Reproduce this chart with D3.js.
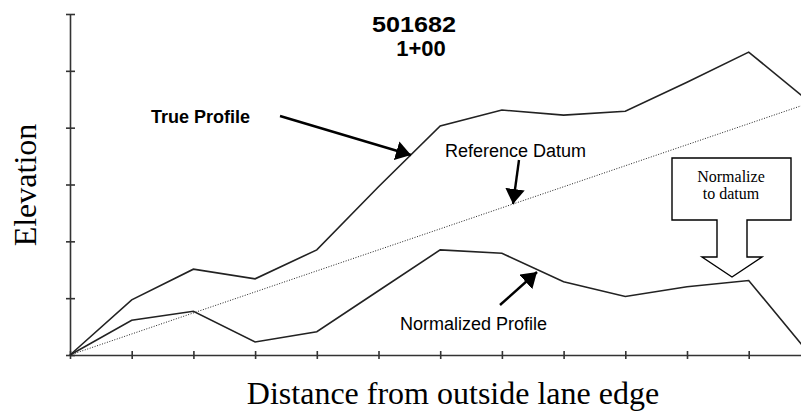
<!DOCTYPE html>
<html>
<head>
<meta charset="utf-8">
<script src="https://cdn.jsdelivr.net/npm/d3@7"></script>
<style>
  body { margin: 0; background: #fff; }
  svg { display: block; }
  .sans { font-family: "Liberation Sans", Arial, sans-serif; }
  .serif { font-family: "Liberation Serif", "Times New Roman", serif; }
</style>
</head>
<body>
<svg width="801" height="411"></svg>
<script>
"use strict";

// station index along the cross section (0 = outside lane edge)
const stations = [0, 1, 2, 3, 4, 5, 6, 7, 8, 9, 10, 11, 12];
const trueProfile = [0, 0.97, 1.51, 1.34, 1.85, 2.96, 4.03, 4.31, 4.22, 4.29, 4.80, 5.33, 4.44];
const normalizedProfile = [0, 0.61, 0.77, 0.23, 0.41, 1.13, 1.85, 1.79, 1.29, 1.03, 1.20, 1.31, 0];
const datumStations = [0, 12];
const datumValues = [0, 4.44];
const yTicks = [0, 1, 2, 3, 4, 5, 6];
const xTicks = [0, 1, 2, 3, 4, 5, 6, 7, 8, 9, 10, 11, 12];

const Padding = {LEFT: 70, TOP: 14, BOTTOM: 355};

const svg = d3.select("svg");

const x = d3.scaleLinear()
    .domain([0, 12])
    .range([Padding.LEFT, 810.4]);

const y = d3.scaleLinear()
    .domain([0, 6])
    .range([Padding.BOTTOM, Padding.TOP]);

// axes, ticks cross the axis line
const xAxis = svg.append("g")
    .attr("transform", `translate(0, ${Padding.BOTTOM})`)
    .call(d3.axisBottom(x).tickValues(xTicks).tickFormat("").tickSizeOuter(0));
xAxis.selectAll(".tick line").attr("y1", -4).attr("y2", 4);

const yAxis = svg.append("g")
    .attr("transform", `translate(${Padding.LEFT}, 0)`)
    .call(d3.axisLeft(y).tickValues(yTicks).tickFormat("").tickSizeOuter(0));
yAxis.selectAll(".tick line").attr("x1", -4).attr("x2", 5);

svg.selectAll(".domain, .tick line")
    .attr("stroke", "#333")
    .attr("stroke-width", 1.6);

// lines
const line = d3.line()
    .x(d => x(d[0]))
    .y(d => y(d[1]));

svg.append("path")
    .datum(d3.zip(datumStations, datumValues))
    .attr("fill", "none")
    .attr("stroke", "#222")
    .attr("stroke-width", 1)
    .attr("stroke-dasharray", "1,1.6")
    .attr("d", line);

svg.append("path")
    .datum(d3.zip(stations, trueProfile))
    .attr("fill", "none")
    .attr("stroke", "#222")
    .attr("stroke-width", 1.6)
    .attr("d", line);

svg.append("path")
    .datum(d3.zip(stations, normalizedProfile))
    .attr("fill", "none")
    .attr("stroke", "#222")
    .attr("stroke-width", 1.6)
    .attr("d", line);

// title
svg.append("text").attr("class", "sans")
    .attr("x", 414).attr("y", 32)
    .attr("text-anchor", "middle")
    .attr("font-size", 22).attr("font-weight", "bold")
    .attr("textLength", 84).attr("lengthAdjust", "spacingAndGlyphs")
    .text("501682");
svg.append("text").attr("class", "sans")
    .attr("x", 421).attr("y", 56)
    .attr("text-anchor", "middle")
    .attr("font-size", 22).attr("font-weight", "bold")
    .text("1+00");

// axis titles
svg.append("text").attr("class", "serif")
    .attr("x", 453).attr("y", 404)
    .attr("text-anchor", "middle")
    .attr("font-size", 32)
    .text("Distance from outside lane edge");

svg.append("text").attr("class", "serif")
    .attr("transform", "translate(36, 185) rotate(-90)")
    .attr("text-anchor", "middle")
    .attr("font-size", 32)
    .text("Elevation");

// arrows with filled heads
svg.append("defs").append("marker")
    .attr("id", "head")
    .attr("viewBox", "0 0 10 13")
    .attr("refX", 10).attr("refY", 6.5)
    .attr("markerWidth", 15).attr("markerHeight", 19.5)
    .attr("markerUnits", "userSpaceOnUse")
    .attr("orient", "auto")
    .append("path")
    .attr("d", "M0,0 L10,6.5 L0,13 Z")
    .attr("fill", "#000");

const arrows = [
    [280, 116, 411, 155],
    [519, 160, 513, 204],
    [500, 305, 537, 272]
];
svg.selectAll(".pointer")
    .data(arrows)
    .enter()
    .append("line")
    .attr("class", "pointer")
    .attr("x1", d => d[0]).attr("y1", d => d[1])
    .attr("x2", d => d[2]).attr("y2", d => d[3])
    .attr("stroke", "#000")
    .attr("stroke-width", 2.4)
    .attr("marker-end", "url(#head)");

svg.append("text").attr("class", "sans")
    .attr("x", 151).attr("y", 123)
    .attr("font-size", 18).attr("font-weight", "bold")
    .text("True Profile");

svg.append("text").attr("class", "sans")
    .attr("x", 445).attr("y", 157)
    .attr("font-size", 18)
    .text("Reference Datum");

svg.append("text").attr("class", "sans")
    .attr("x", 400).attr("y", 330)
    .attr("font-size", 18)
    .text("Normalized Profile");

// "Normalize to datum" block arrow callout
const callout = [
    [672, 158], [791, 158], [791, 220], [747, 220], [747, 257], [762, 257],
    [732, 277], [702, 257], [717, 257], [717, 220], [672, 220]
];
svg.append("path")
    .attr("d", d3.line()(callout) + "Z")
    .attr("fill", "#fff")
    .attr("stroke", "#000")
    .attr("stroke-width", 1.4);

svg.append("text").attr("class", "serif")
    .attr("x", 731).attr("y", 182)
    .attr("text-anchor", "middle")
    .attr("font-size", 16)
    .text("Normalize");
svg.append("text").attr("class", "serif")
    .attr("x", 731).attr("y", 199)
    .attr("text-anchor", "middle")
    .attr("font-size", 16)
    .text("to datum");
</script>
</body>
</html>
